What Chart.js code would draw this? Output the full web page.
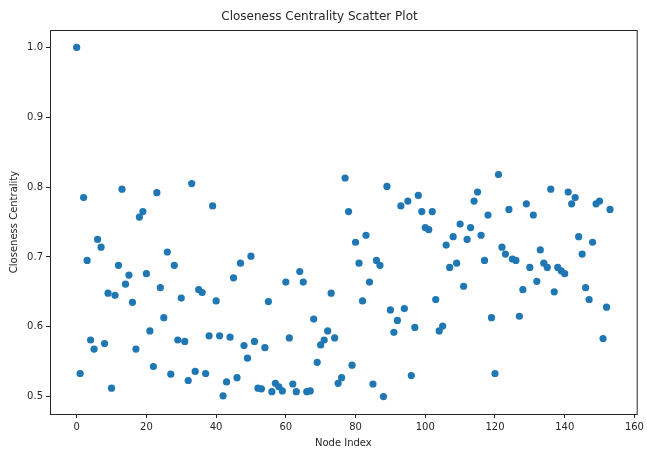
<!DOCTYPE html>
<html>
<head>
<meta charset="utf-8">
<title>Closeness Centrality Scatter Plot</title>
<script src="https://cdn.jsdelivr.net/npm/chart.js@4/dist/chart.umd.min.js"></script>
<style>
    body { margin: 0; background: #fff; }
    canvas { display: block; }
</style>
</head>
<body>
<canvas id="scatterChart" width="647" height="452"></canvas>
<script>
// Closeness centrality per node
const closeness = [
    1.000, 0.533, 0.785, 0.695, 0.581, 0.568, 0.725, 0.714, 0.576, 0.648,
    0.512, 0.645, 0.688, 0.797, 0.661, 0.674, 0.635, 0.568, 0.757, 0.765,
    0.676, 0.594, 0.543, 0.792, 0.656, 0.613, 0.707, 0.532, 0.688, 0.581,
    0.641, 0.579, 0.523, 0.805, 0.536, 0.653, 0.649, 0.533, 0.587, 0.773,
    0.637, 0.587, 0.501, 0.521, 0.585, 0.670, 0.527, 0.691, 0.573, 0.555,
    0.701, 0.579, 0.512, 0.511, 0.570, 0.636, 0.507, 0.519, 0.514, 0.508,
    0.664, 0.584, 0.518, 0.507, 0.679, 0.664, 0.507, 0.508, 0.611, 0.549,
    0.574, 0.581, 0.594, 0.648, 0.584, 0.519, 0.527, 0.813, 0.765, 0.545,
    0.721, 0.691, 0.637, 0.731, 0.664, 0.518, 0.695, 0.688, 0.500, 0.801,
    0.624, 0.592, 0.609, 0.773, 0.626, 0.780, 0.530, 0.599, 0.788, 0.765,
    0.742, 0.739, 0.765, 0.639, 0.594, 0.601, 0.717, 0.685, 0.729, 0.691,
    0.747, 0.658, 0.725, 0.742, 0.780, 0.793, 0.731, 0.695, 0.760, 0.613,
    0.533, 0.818, 0.714, 0.704, 0.768, 0.697, 0.695, 0.615, 0.653, 0.776,
    0.685, 0.760, 0.665, 0.710, 0.691, 0.685, 0.797, 0.650, 0.685, 0.680,
    0.676, 0.793, 0.776, 0.785, 0.729, 0.704, 0.656, 0.639, 0.721, 0.776,
    0.780, 0.583, 0.628, 0.768
];

// Node index is just the position in the list
const nodeIndex = closeness.map((_, i) => i);

const xTicks = [0, 20, 40, 60, 80, 100, 120, 140, 160];
const yTicks = [0.5, 0.6, 0.7, 0.8, 0.9, 1.0];

const textColor = '#262626';
const fontFamily = "'DejaVu Sans', sans-serif";

// Draws the full box around the plot area, like matplotlib's spines
const frameBox = {
    id: 'frameBox',
    afterDatasetsDraw(chart) {
        const { ctx, chartArea } = chart;
        ctx.save();
        ctx.strokeStyle = textColor;
        ctx.lineWidth = 1;
        ctx.strokeRect(chartArea.left + 0.5, chartArea.top + 0.5,
            chartArea.right - chartArea.left, chartArea.bottom - chartArea.top);
        ctx.restore();
    }
};

new Chart(document.getElementById('scatterChart'), {
    type: 'scatter',
    data: {
        datasets: [{
            data: nodeIndex.map((x, i) => ({ x: x, y: closeness[i] })),
            backgroundColor: '#1f77b4',
            borderWidth: 0,
            pointRadius: 3.6,
            pointHoverRadius: 3.6
        }]
    },
    options: {
        responsive: false,
        animation: false,
        devicePixelRatio: 1,
        layout: { padding: { left: 0, right: 8, top: 0, bottom: 0 } },
        plugins: {
            legend: { display: false },
            tooltip: { enabled: false },
            title: {
                display: true,
                text: 'Closeness Centrality Scatter Plot',
                color: textColor,
                font: { family: fontFamily, size: 12, weight: 'normal' },
                padding: { top: 10, bottom: 5.6 }
            }
        },
        scales: {
            x: {
                type: 'linear',
                min: -7.65,
                max: 160.65,
                afterBuildTicks: scale => {
                    scale.ticks = xTicks.map(v => ({ value: v }));
                },
                afterFit: scale => { scale.height = 38; },
                grid: {
                    display: true,
                    drawOnChartArea: false,
                    drawTicks: true,
                    tickLength: 4,
                    color: textColor
                },
                border: { display: false },
                ticks: {
                    color: textColor,
                    padding: 3,
                    maxRotation: 0,
                    font: { family: fontFamily, size: 10 }
                },
                title: {
                    display: true,
                    text: 'Node Index',
                    color: textColor,
                    font: { family: fontFamily, size: 10 },
                    padding: { top: 0, bottom: 3 }
                }
            },
            y: {
                type: 'linear',
                min: 0.475,
                max: 1.025,
                afterBuildTicks: scale => {
                    scale.ticks = yTicks.map(v => ({ value: v }));
                },
                afterFit: scale => { scale.width = 50; },
                grid: {
                    display: true,
                    drawOnChartArea: false,
                    drawTicks: true,
                    tickLength: 4,
                    color: textColor
                },
                border: { display: false },
                ticks: {
                    color: textColor,
                    padding: 3,
                    font: { family: fontFamily, size: 10 },
                    callback: value => value.toFixed(1)
                },
                title: {
                    display: true,
                    text: 'Closeness Centrality',
                    color: textColor,
                    font: { family: fontFamily, size: 10 },
                    padding: { top: 8, bottom: 0 }
                }
            }
        }
    },
    plugins: [frameBox]
});
</script>
</body>
</html>
